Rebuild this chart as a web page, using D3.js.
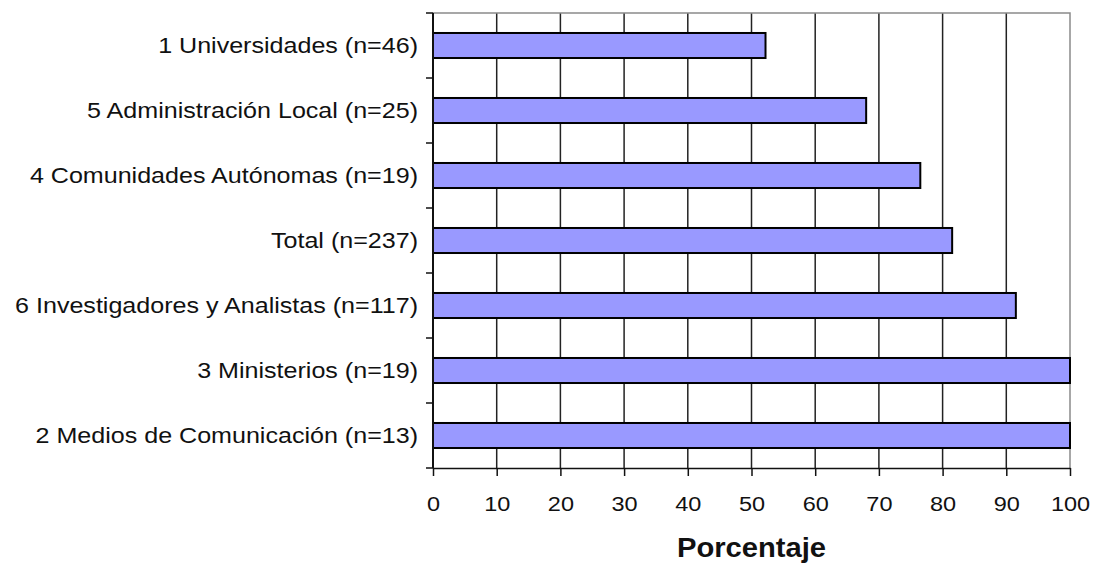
<!DOCTYPE html>
<html>
<head>
<meta charset="utf-8">
<script src="https://cdn.jsdelivr.net/npm/d3@7"></script>
<style>
  body { margin: 0; background: #fff; }
  text { font-family: "Liberation Sans", Arial, sans-serif; fill: #111; }
</style>
</head>
<body>
<div id="chart"></div>
<script>
(function () {
    // datos (de arriba a abajo)
    const categories = [
        "1 Universidades (n=46)",
        "5 Administración Local (n=25)",
        "4 Comunidades Autónomas (n=19)",
        "Total (n=237)",
        "6 Investigadores y Analistas (n=117)",
        "3 Ministerios (n=19)",
        "2 Medios de Comunicación (n=13)"
    ];
    const values = [52.2, 68.0, 76.5, 81.5, 91.5, 100, 100];
    const xTicks = [0, 10, 20, 30, 40, 50, 60, 70, 80, 90, 100];
    const xTitle = "Porcentaje";

    const W = 1095, H = 566;
    const plot = { left: 433, right: 1070, top: 13, bottom: 468 };
    const stretch = 1.14; // el original está un poco estirado en horizontal

    const svg = d3.select("#chart").append("svg")
        .attr("width", W)
        .attr("height", H);

    const x = d3.scaleLinear()
        .domain([0, 100])
        .range([plot.left, plot.right]);

    const y = d3.scaleBand()
        .domain(categories)
        .range([plot.top, plot.bottom])
        .paddingInner(0.615)
        .paddingOuter(0.3075);

    // líneas de cuadrícula verticales
    svg.append("g")
        .selectAll("line")
        .data(xTicks.filter(d => d > 0 && d < 100))
        .join("line")
        .attr("x1", d => x(d)).attr("x2", d => x(d))
        .attr("y1", plot.top).attr("y2", plot.bottom)
        .attr("stroke", "#222")
        .attr("stroke-width", 1.5);

    // borde superior y derecho (gris)
    svg.append("path")
        .attr("d", `M${plot.left},${plot.top}H${plot.right}V${plot.bottom}`)
        .attr("fill", "none")
        .attr("stroke", "#8a8a8a")
        .attr("stroke-width", 1.5);

    // barras
    svg.append("g")
        .selectAll("rect")
        .data(values)
        .join("rect")
        .attr("x", x(0))
        .attr("y", (d, i) => y(categories[i]))
        .attr("width", d => x(d) - x(0))
        .attr("height", y.bandwidth())
        .attr("fill", "#9999ff")
        .attr("stroke", "#000")
        .attr("stroke-width", 2);

    // eje X
    const xAxis = svg.append("g")
        .attr("transform", `translate(0,${plot.bottom})`)
        .call(d3.axisBottom(x).tickValues(xTicks).tickSize(8).tickSizeOuter(0));
    xAxis.select(".domain").attr("stroke", "#111").attr("stroke-width", 1.5);
    xAxis.selectAll(".tick line").attr("stroke", "#111").attr("stroke-width", 1.5);
    xAxis.selectAll(".tick text")
        .attr("y", 43)
        .attr("dy", null)
        .attr("transform", "scale(1.12,1)")
        .style("font-size", "21px")
        .attr("fill", "#111");

    // eje Y con marcas en los límites de cada categoría
    const step = y.step();
    const bounds = d3.range(categories.length + 1).map(i => plot.top + i * step);
    svg.append("line")
        .attr("x1", plot.left).attr("x2", plot.left)
        .attr("y1", plot.top).attr("y2", plot.bottom)
        .attr("stroke", "#111").attr("stroke-width", 2);
    svg.append("g")
        .selectAll("line")
        .data(bounds)
        .join("line")
        .attr("x1", plot.left - 7).attr("x2", plot.left)
        .attr("y1", d => d).attr("y2", d => d)
        .attr("stroke", "#111").attr("stroke-width", 1.5);

    svg.append("g")
        .selectAll("text")
        .data(categories)
        .join("text")
        .attr("transform", d => `translate(${plot.left - 15},${y(d) + y.bandwidth() / 2}) scale(${stretch},1)`)
        .attr("dy", "0.36em")
        .attr("text-anchor", "end")
        .style("font-size", "22px")
        .text(d => d);

    // título del eje X
    svg.append("text")
        .attr("transform", `translate(${(plot.left + plot.right) / 2},557) scale(1.08,1)`)
        .attr("text-anchor", "middle")
        .style("font-size", "27px")
        .style("font-weight", "bold")
        .text(xTitle);
})();
</script>
</body>
</html>
